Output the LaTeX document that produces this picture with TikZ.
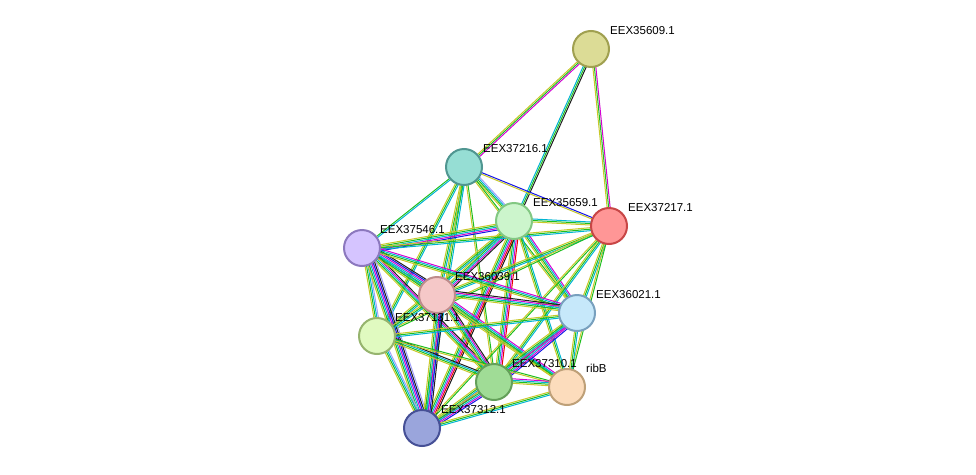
\documentclass[tikz,border=0pt]{standalone}
\usepackage{fontspec}
\setmainfont{Liberation Sans}
\usetikzlibrary{calc}
\definecolor{tm}{RGB}{200,200,40}
\definecolor{nb}{RGB}{30,190,30}
\definecolor{db}{RGB}{0,180,210}
\definecolor{ex}{RGB}{210,0,210}
\definecolor{co}{RGB}{20,20,230}
\definecolor{cx}{RGB}{30,30,30}
\definecolor{fu}{RGB}{230,0,0}
\definecolor{ho}{RGB}{160,160,250}
\tikzset{
 prot/.style={circle,minimum size=36pt,inner sep=0pt,line width=2pt},
 lab/.style={font=\fontsize{11.5pt}{12pt}\selectfont,anchor=south west,inner sep=1pt},
}
\newcommand{\edg}[3]{%
 \foreach \c [count=\i] in {#3}{%
  \pgfmathsetmacro{\o}{(\i-1)*1.5}
  \draw[\c,line width=1pt] ($(#1)!\o pt!90:(#2)$) -- ($(#2)!\o pt!-90:(#1)$);}}
\begin{document}
\begin{tikzpicture}[x=1pt,y=-1pt]
\useasboundingbox (0,0) rectangle (976,474);
\coordinate (a) at (591,49);
\coordinate (b) at (464,167);
\coordinate (c) at (514,221);
\coordinate (d) at (609,226);
\coordinate (e) at (362,248);
\coordinate (f) at (437,295);
\coordinate (g) at (577,313);
\coordinate (h) at (377,336);
\coordinate (i) at (494,382);
\coordinate (j) at (567,387);
\coordinate (k) at (422,428);
\edg{a}{b}{tm,nb,ex}
\edg{a}{c}{db,nb,cx}
\edg{a}{d}{tm,nb,ex}
\edg{b}{c}{tm,nb,db,ho}
\edg{b}{d}{tm,co}
\edg{b}{e}{nb,db}
\edg{b}{f}{tm,nb,db}
\edg{b}{g}{tm,nb}
\edg{b}{h}{tm,nb,db}
\edg{b}{i}{tm,nb}
\edg{b}{k}{tm,nb,db}
\edg{c}{d}{tm,nb,db}
\edg{c}{e}{tm,nb,db,ex,co}
\edg{c}{f}{tm,nb,db,ex,cx}
\edg{c}{g}{tm,nb,db,ex}
\edg{c}{h}{tm,nb,db}
\edg{c}{i}{tm,nb,db,ex,fu}
\edg{c}{j}{tm,nb,db}
\edg{c}{k}{tm,nb,db,ex,fu,cx}
\edg{d}{e}{tm,nb,db}
\edg{d}{f}{tm,nb,db}
\edg{d}{g}{tm,nb,db}
\edg{d}{h}{tm,nb}
\edg{d}{i}{tm,nb,db}
\edg{d}{j}{tm,nb}
\edg{d}{k}{tm,nb}
\edg{e}{f}{tm,nb,db,ex,co,cx}
\edg{e}{g}{tm,nb,db,ex}
\edg{e}{h}{tm,nb,db,ho}
\edg{e}{i}{tm,nb,db,ex,cx}
\edg{e}{j}{tm,nb,db}
\edg{e}{k}{tm,nb,db,ex,co,cx,ho}
\edg{f}{g}{tm,nb,db,ex,cx}
\edg{f}{h}{tm,nb,db}
\edg{f}{i}{tm,nb,db,ex,cx}
\edg{f}{j}{tm,nb,db,ex}
\edg{f}{k}{tm,nb,db,ex,co,cx}
\edg{g}{h}{tm,nb,db}
\edg{g}{i}{tm,nb,db,ex,co}
\edg{g}{j}{tm,nb,db}
\edg{g}{k}{tm,nb,db,ex}
\edg{h}{i}{tm,nb,db,cx}
\edg{h}{j}{tm,nb}
\edg{h}{k}{tm,nb,db,ho}
\edg{i}{j}{tm,nb,db,ex}
\edg{i}{k}{tm,nb,db,ex,co}
\edg{j}{k}{tm,nb,db}
\node[prot,draw={rgb,255:red,160;green,160;blue,80},fill={rgb,255:red,220;green,220;blue,150}] (A) at (a) {};
\node[prot,draw={rgb,255:red,80;green,150;blue,145},fill={rgb,255:red,150;green,222;blue,212}] (B) at (b) {};
\node[prot,draw={rgb,255:red,130;green,200;blue,130},fill={rgb,255:red,204;green,245;blue,204}] (C) at (c) {};
\node[prot,draw={rgb,255:red,200;green,70;blue,70},fill={rgb,255:red,255;green,150;blue,150}] (D) at (d) {};
\node[prot,draw={rgb,255:red,140;green,120;blue,190},fill={rgb,255:red,213;green,196;blue,255}] (E) at (e) {};
\node[prot,draw={rgb,255:red,190;green,140;blue,140},fill={rgb,255:red,245;green,200;blue,200}] (F) at (f) {};
\node[prot,draw={rgb,255:red,120;green,160;blue,190},fill={rgb,255:red,198;green,232;blue,250}] (G) at (g) {};
\node[prot,draw={rgb,255:red,150;green,180;blue,110},fill={rgb,255:red,224;green,250;blue,192}] (H) at (h) {};
\node[prot,draw={rgb,255:red,100;green,160;blue,90},fill={rgb,255:red,160;green,220;blue,150}] (I) at (i) {};
\node[prot,draw={rgb,255:red,190;green,160;blue,120},fill={rgb,255:red,252;green,220;blue,188}] (J) at (j) {};
\node[prot,draw={rgb,255:red,70;green,80;blue,150},fill={rgb,255:red,154;green,165;blue,220}] (K) at (k) {};
\node[lab] at (609,36) {EEX35609.1};
\node[lab] at (482,154) {EEX37216.1};
\node[lab] at (532,208) {EEX35659.1};
\node[lab] at (627,213) {EEX37217.1};
\node[lab] at (379,235) {EEX37546.1};
\node[lab] at (454,282) {EEX36039.1};
\node[lab] at (595,300) {EEX36021.1};
\node[lab] at (394,323) {EEX37131.1};
\node[lab] at (511,369) {EEX37310.1};
\node[lab] at (585,374) {ribB};
\node[lab] at (440,415) {EEX37312.1};
\end{tikzpicture}
\end{document}
